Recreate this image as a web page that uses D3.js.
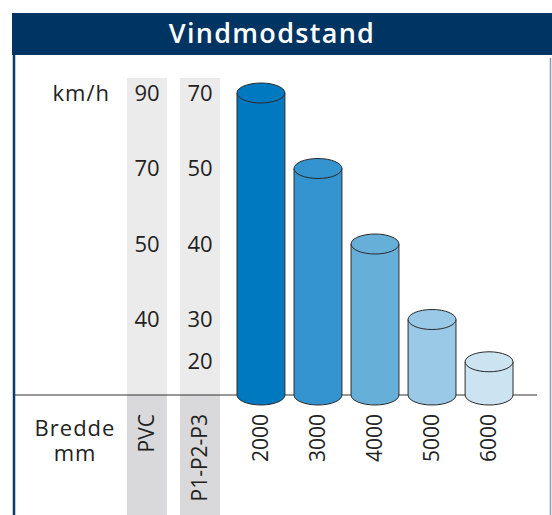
<!DOCTYPE html>
<html>
<head>
<meta charset="utf-8">
<script src="https://cdn.jsdelivr.net/npm/d3@7"></script>
<style>
  body { margin: 0; background: #fff; }
  svg text { font-family: "Open Sans", "Noto Sans", sans-serif; fill: #222; }
</style>
</head>
<body>
<svg id="chart"></svg>
<script>
// bar categories (width in mm)
var widths = ["2000", "3000", "4000", "5000", "6000"];
// wind speed, km/h, for each width
var pvcSpeeds = [90, 70, 50, 40, null];
var pSpeeds = [70, 50, 40, 30, 20];
// bar height in chart units (rows are evenly spaced, last one is lower)
var levels = [4, 3, 2, 1, 0.44];
var barColors = ["#0079c1", "#3394cf", "#66afd9", "#99c9e6", "#cce3f1"];

var W = 552, H = 515;
var baseY = 395;
var fs = "22px";

var svg = d3.select("svg#chart")
    .attr("width", W)
    .attr("height", H);

// scales
var x = d3.scaleBand()
    .domain(widths)
    .range([237, 513])
    .paddingInner(0.16)
    .paddingOuter(0);

var y = d3.scaleLinear()
    .domain([0, 4])
    .range([baseY, 93]);

var ry = 10;
var rx = x.bandwidth() / 2;

// grey label columns
var cols = [
    {name: "PVC", cx: 147, values: pvcSpeeds},
    {name: "P1-P2-P3", cx: 200, values: pSpeeds}
];
var colW = 40;

cols.forEach(function(c) {
    svg.append("rect")
        .attr("x", c.cx - colW / 2)
        .attr("y", 78)
        .attr("width", colW)
        .attr("height", baseY - 78)
        .attr("fill", "#ebebeb");
    svg.append("rect")
        .attr("x", c.cx - colW / 2)
        .attr("y", baseY)
        .attr("width", colW)
        .attr("height", H - baseY)
        .attr("fill", "#d9d9db");
});

// title bar
svg.append("rect")
    .attr("x", 12)
    .attr("y", 13)
    .attr("width", W - 12)
    .attr("height", 42)
    .attr("fill", "#003462");

svg.append("text")
    .attr("x", 272)
    .attr("y", 34)
    .attr("dy", "0.35em")
    .attr("text-anchor", "middle")
    .style("font-size", "27px")
    .style("font-weight", "600")
    .style("letter-spacing", "1.3px")
    .style("fill", "#fff")
    .text("Vindmodstand");

// frame lines
svg.append("line")
    .attr("x1", 14).attr("x2", 14)
    .attr("y1", 55).attr("y2", H)
    .attr("stroke", "#0d3a66")
    .attr("stroke-width", 2.5);

svg.append("line")
    .attr("x1", 550.5).attr("x2", 550.5)
    .attr("y1", 58).attr("y2", H)
    .attr("stroke", "#8c9db3")
    .attr("stroke-width", 1.5);

// baseline
svg.append("line")
    .attr("x1", 15).attr("x2", 537)
    .attr("y1", baseY).attr("y2", baseY)
    .attr("stroke", "#333")
    .attr("stroke-width", 1.2);

// cylinders
var bars = svg.selectAll("g.bar")
    .data(widths)
    .enter()
    .append("g")
    .attr("class", "bar");

bars.append("path")
    .attr("d", function(d, i) {
        var x0 = x(d), x1 = x(d) + x.bandwidth(), yt = y(levels[i]);
        return "M" + x0 + "," + yt +
            "L" + x0 + "," + baseY +
            "A" + rx + "," + ry + " 0 0 0 " + x1 + "," + baseY +
            "L" + x1 + "," + yt + "Z";
    })
    .attr("fill", function(d, i) { return barColors[i]; })
    .attr("stroke", "#2a2a2a")
    .attr("stroke-width", 1);

bars.append("ellipse")
    .attr("cx", function(d) { return x(d) + rx; })
    .attr("cy", function(d, i) { return y(levels[i]); })
    .attr("rx", rx)
    .attr("ry", ry)
    .attr("fill", function(d, i) { return barColors[i]; })
    .attr("stroke", "#2a2a2a")
    .attr("stroke-width", 1);

// speed labels at the height of each bar top
svg.append("text")
    .attr("x", 110)
    .attr("y", y(levels[0]))
    .attr("dy", "0.35em")
    .attr("text-anchor", "end")
    .style("font-size", fs)
    .style("letter-spacing", "1px")
    .text("km/h");

cols.forEach(function(c) {
    svg.selectAll(null)
        .data(c.values)
        .enter()
        .filter(function(d) { return d != null; })
        .append("text")
        .attr("x", c.cx)
        .attr("y", function(d) { return y(levels[c.values.indexOf(d)]); })
        .attr("dy", "0.35em")
        .attr("text-anchor", "middle")
        .style("font-size", fs)
        .text(function(d) { return d; });
});

// bottom labels
var labY = 414;

svg.append("text")
    .attr("x", 75)
    .attr("y", 436)
    .attr("text-anchor", "middle")
    .style("font-size", fs)
    .style("letter-spacing", "1px")
    .text("Bredde");

svg.append("text")
    .attr("x", 75)
    .attr("y", 461)
    .attr("text-anchor", "middle")
    .style("font-size", fs)
    .style("letter-spacing", "1px")
    .text("mm");

cols.forEach(function(c) {
    svg.append("text")
        .attr("transform", "translate(" + c.cx + "," + labY + ") rotate(-90)")
        .attr("dy", "0.35em")
        .attr("text-anchor", "end")
        .style("font-size", "21px")
        .text(c.name);
});

svg.selectAll("text.wlab")
    .data(widths)
    .enter()
    .append("text")
    .attr("class", "wlab")
    .attr("transform", function(d) {
        return "translate(" + (x(d) + rx) + "," + labY + ") rotate(-90)";
    })
    .attr("dy", "0.35em")
    .attr("text-anchor", "end")
    .style("font-size", "21px")
    .text(function(d) { return d; });
</script>
</body>
</html>
